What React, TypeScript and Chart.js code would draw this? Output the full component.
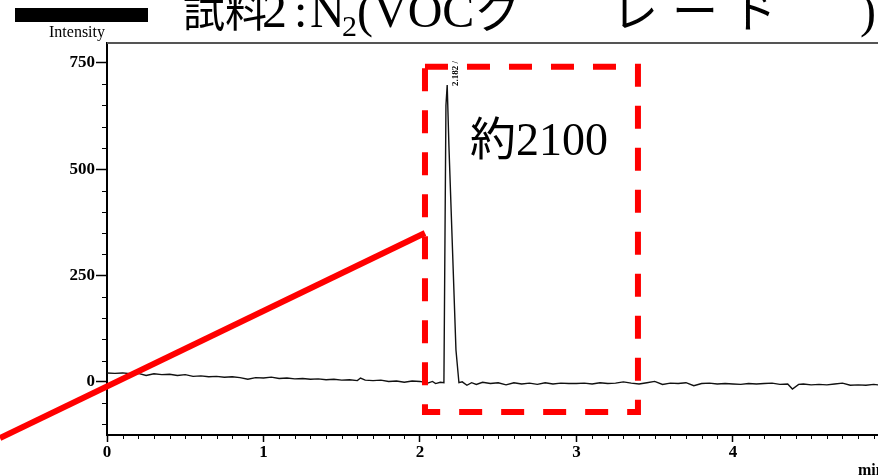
import React, { useEffect, useRef } from "react";
import { Chart, registerables } from "chart.js";

Chart.register(...registerables);

// ---- axis ranges / ticks ----
const xMin = 0;
const xMax = 4.927;
const yMin = -125;
const yMax = 797;
const xTickLabels = [0, 1, 2, 3, 4];
const yTickLabels = [0, 250, 500, 750];

// ---- chromatogram trace (time in min, intensity) ----
const traceX = [
  0.0, 0.05, 0.1, 0.15, 0.2, 0.25, 0.3, 0.35, 0.4, 0.45, 0.5, 0.55, 0.6, 0.65, 0.7, 0.75, 0.8, 0.85, 0.9, 0.95,
  1.0, 1.05, 1.1, 1.15, 1.2, 1.25, 1.3, 1.35, 1.4, 1.45, 1.5, 1.55, 1.6, 1.62, 1.65, 1.7, 1.75, 1.8, 1.85, 1.9,
  1.95, 2.0, 2.05, 2.08, 2.1, 2.13, 2.153, 2.166, 2.174, 2.185, 2.208, 2.23, 2.249, 2.27, 2.3, 2.33, 2.36, 2.4,
  2.45, 2.5, 2.55, 2.6, 2.65, 2.7, 2.75, 2.8, 2.85, 2.9, 2.95, 3.0, 3.05, 3.1, 3.15, 3.2, 3.25, 3.3, 3.35, 3.4,
  3.45, 3.5, 3.55, 3.6, 3.65, 3.7, 3.75, 3.8, 3.85, 3.9, 3.95, 4.0, 4.05, 4.1, 4.15, 4.2, 4.25, 4.3, 4.35, 4.38,
  4.42, 4.45, 4.5, 4.55, 4.6, 4.65, 4.7, 4.75, 4.8, 4.85, 4.9, 4.95,
];
const traceY = [
  21, 20, 21, 19, 20, 15, 19, 17, 18, 15, 17, 13, 14, 12, 13, 11, 12, 10, 6, 10,
  9, 11, 8, 9, 7, 8, 6, 7, 5, 6, 4, 5, 3, 9, 4, 3, 4, 1, 2, -1,
  2, 1, -3, 1, -4, -1, -2, 650, 698, 555, 310, 75, -2, 0, -8, -2, -6, -1,
  -4, -2, -7, -2, -5, -3, -6, -2, -5, -3, -4, -4, -3, -5, -2, -4, -3, 0, -3, -5,
  -2, 1, -6, -3, -4, -2, -9, -4, -3, -5, -4, -5, -6, -4, -5, -4, -3, -6, -5, -17,
  -6, -5, -7, -6, -7, -5, -3, -8, -7, -8, -6, -8,
];

// ---- peak annotation ----
const peakLabel = "2.182 /";
const peakTime = 2.182;
const peakHeight = 698;

// ---- red annotations (data coordinates) ----
const pointerX = [-0.684, 2.032];
const pointerY = [-132, 350];
const boxX = [2.032, 3.393, 3.393, 2.032, 2.032];
const boxY = [741, 741, -71, -71, 741];
const boxNote = "約2100";

const titleParts = [
  { text: "試料", x: 183, size: 42, base: 27 },
  { text: "2", x: 262, size: 50, base: 27 },
  { text: ":", x: 294, size: 48, base: 27 },
  { text: "N", x: 310, size: 48, base: 27 },
  { text: "2", x: 342, size: 30, base: 36 },
  { text: "(VOC", x: 357, size: 48, base: 27 },
  { text: "グ", x: 476, size: 46, base: 27 },
  { text: "レ", x: 612, size: 46, base: 27 },
  { text: "ー", x: 672, size: 46, base: 27 },
  { text: "ド", x: 732, size: 46, base: 27 },
  { text: ")", x: 860, size: 48, base: 27 },
];

const SERIF = '"Liberation Serif", "Noto Sans CJK JP", serif';

const zip = (xs: number[], ys: number[]) => xs.map((x, i) => ({ x, y: ys[i] }));

const overlay = {
  id: "overlay",
  afterDraw(chart: any) {
    const { ctx, chartArea: a, scales } = chart;
    const xs = scales.x;
    const ys = scales.y;
    ctx.save();
    // top frame line
    ctx.strokeStyle = "#555";
    ctx.lineWidth = 2;
    ctx.beginPath();
    ctx.moveTo(a.left, a.top);
    ctx.lineTo(a.right, a.top);
    ctx.stroke();
    // minor ticks
    ctx.strokeStyle = "#000";
    ctx.lineWidth = 1;
    ctx.beginPath();
    for (let i = 1; i * 0.1 <= xMax; i++) {
      if (i % 10 === 0) continue;
      const px = Math.round(xs.getPixelForValue(i * 0.1)) + 0.5;
      ctx.moveTo(px, a.bottom);
      ctx.lineTo(px, a.bottom + 4);
    }
    for (let v = -100; v <= yMax; v += 50) {
      if (v % 250 === 0) continue;
      const py = Math.round(ys.getPixelForValue(v)) + 0.5;
      ctx.moveTo(a.left - 5, py);
      ctx.lineTo(a.left, py);
    }
    ctx.stroke();

    // title
    ctx.fillStyle = "#000";
    ctx.textBaseline = "alphabetic";
    ctx.textAlign = "left";
    for (const p of titleParts) {
      ctx.font = `${p.size}px ${SERIF}`;
      ctx.fillText(p.text, p.x, p.base);
    }
    // black bar
    ctx.fillRect(15, 8, 133, 14);
    // Intensity label
    ctx.font = `16px ${SERIF}`;
    ctx.textAlign = "center";
    ctx.fillText("Intensity", 77, 37);
    // min label
    ctx.font = `bold 16px ${SERIF}`;
    ctx.textAlign = "left";
    ctx.fillText("min", 858, 475);

    // box note
    ctx.font = `46px ${SERIF}`;
    ctx.fillText(boxNote, 470, 155);

    // peak label rotated
    const px = xs.getPixelForValue(peakTime) + 10;
    const py = ys.getPixelForValue(peakHeight) + 1;
    ctx.translate(px, py);
    ctx.rotate(-Math.PI / 2);
    ctx.font = `bold 9px ${SERIF}`;
    ctx.fillText(peakLabel, 0, 0);
    ctx.restore();
  },
};

export default function App() {
  const ref = useRef<HTMLCanvasElement | null>(null);
  useEffect(() => {
    if (!ref.current) return;
    const chart = new Chart(ref.current, {
      type: "line",
      data: {
        datasets: [
          {
            data: zip(pointerX, pointerY),
            borderColor: "#ff0000",
            borderWidth: 6,
            pointRadius: 0,
            clip: false as any,
            order: 0,
            borderCapStyle: "butt",
          },
          {
            data: zip(boxX, boxY),
            borderColor: "#ff0000",
            borderWidth: 6,
            borderDash: [23, 19],
            pointRadius: 0,
            order: 0,
            borderJoinStyle: "miter",
          },
          {
            data: zip(traceX, traceY),
            borderColor: "#111",
            borderWidth: 1.4,
            pointRadius: 0,
            tension: 0,
            order: 1,
          },
        ],
      },
      options: {
        animation: false,
        responsive: false,
        maintainAspectRatio: false,
        layout: { padding: { top: 43, left: 0, right: 0, bottom: 0 } },
        plugins: { legend: { display: false }, tooltip: { enabled: false }, title: { display: false } },
        scales: {
          x: {
            type: "linear",
            min: xMin,
            max: xMax,
            afterBuildTicks: (s: any) => {
              s.ticks = xTickLabels.map((v) => ({ value: v }));
            },
            afterFit: (s: any) => {
              s.height = 41;
            },
            ticks: {
              color: "#000",
              font: { family: SERIF, size: 17, weight: "bold" },
              padding: 0,
              maxRotation: 0,
              autoSkip: false,
              callback: (v: any) => String(v),
            },
            grid: { drawOnChartArea: false, drawTicks: true, tickLength: 7, color: "#000", tickWidth: 1.5 },
            border: { display: true, color: "#000", width: 2 },
          },
          y: {
            type: "linear",
            min: yMin,
            max: yMax,
            afterBuildTicks: (s: any) => {
              s.ticks = yTickLabels.map((v) => ({ value: v }));
            },
            afterFit: (s: any) => {
              s.width = 107;
            },
            ticks: {
              color: "#000",
              font: { family: SERIF, size: 17, weight: "bold" },
              padding: 1,
              autoSkip: false,
              callback: (v: any) => String(v),
            },
            grid: { drawOnChartArea: false, drawTicks: true, tickLength: 11, color: "#000", tickWidth: 1.5 },
            border: { display: true, color: "#000", width: 2 },
          },
        },
      },
      plugins: [overlay],
    });
    return () => chart.destroy();
  }, []);
  return (
    <div style={{ position: "fixed", left: 0, top: 0, width: 878, height: 476, background: "#fff" }}>
      <canvas ref={ref} width={878} height={476} style={{ display: "block", width: 878, height: 476 }} />
    </div>
  );
}
